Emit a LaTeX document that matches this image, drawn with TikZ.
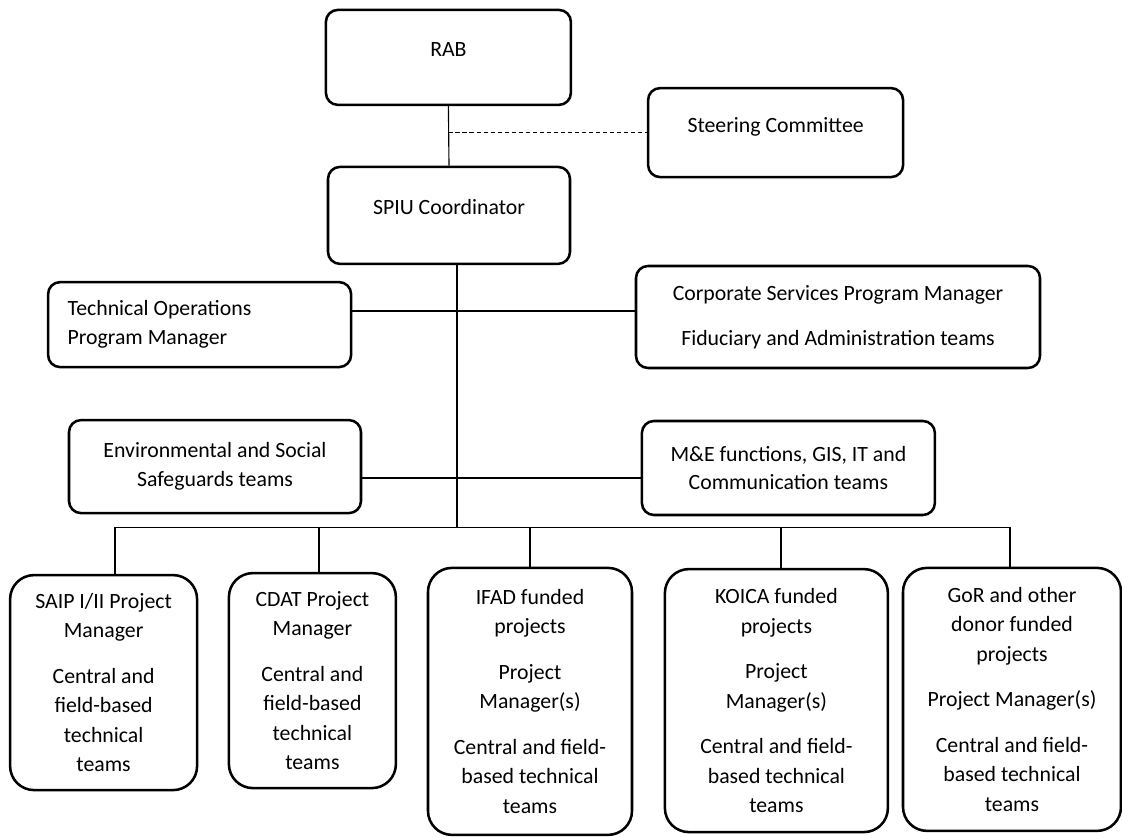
\documentclass[tikz,border=0pt]{standalone}
\usepackage{fontspec}
\setmainfont{Carlito}
\usetikzlibrary{positioning}

\begin{document}
\begin{tikzpicture}[unit/.style={draw,line width=1.8pt,rounded corners=0.3cm,align=center,inner sep=2pt,font=\fontsize{15.5}{20.4}\selectfont},
	proj/.style={unit,rounded corners=0.6cm,font=\fontsize{15.5}{21}\selectfont},
	link/.style={line width=0.8pt}]
		\useasboundingbox (0,0) rectangle (28.05,20.925);
		
		\node[unit,minimum width=6.125cm,minimum height=2.375cm,text depth=0.4cm] (rab) at (11.21,19.49) {RAB};
		\node[unit,minimum width=6.375cm,minimum height=2.225cm,text depth=0.4cm] (steer) at (19.39,17.61) {Steering Committee};
		\node[unit,minimum width=6.05cm,minimum height=2.425cm,text depth=0.4cm] (spiu) at (11.225,15.54) {SPIU Coordinator};
		
		\node[unit,minimum width=7.575cm,minimum height=2.125cm,align=flush left,text width=6.6cm] (techops) at (4.99,12.81) {Technical Operations\\Program Manager};
		\node[unit,minimum width=10.1cm,minimum height=2.55cm] (corp) at (20.95,13.0) {Corporate Services Program Manager\\[0.4cm]Fiduciary and Administration teams};
		
		\node[unit,minimum width=7.3cm,minimum height=2.325cm] (envsoc) at (5.375,9.26) {Environmental and Social\\Safeguards teams};
		\node[unit,minimum width=7.325cm,minimum height=2.35cm] (mande) at (19.71,9.225) {M\&E functions, GIS, IT and\\Communication teams};
		
		\node[proj,minimum width=4.675cm,minimum height=5.375cm] (saip) at (2.59,3.86) {SAIP I/II Project\\Manager\\[0.4cm]Central and\\field-based\\technical\\teams};
		\node[proj,minimum width=4.175cm,minimum height=5.375cm] (cdat) at (7.81,3.91) {CDAT Project\\Manager\\[0.4cm]Central and\\field-based\\technical\\teams};
		\node[proj,minimum width=5.1cm,minimum height=6.675cm] (ifad) at (13.25,3.39) {IFAD funded\\projects\\[0.4cm]Project\\Manager(s)\\[0.4cm]Central and field-\\based technical\\teams};
		\node[proj,minimum width=5.575cm,minimum height=6.575cm] (koica) at (19.41,3.41) {KOICA funded\\projects\\[0.4cm]Project\\Manager(s)\\[0.4cm]Central and field-\\based technical\\teams};
		\node[proj,minimum width=5.45cm,minimum height=6.575cm] (gor) at (25.3,3.44) {GoR and other\\donor funded\\projects\\[0.4cm]Project Manager(s)\\[0.4cm]Central and field-\\based technical\\teams};
		
		% top of the chart
		\draw[link] (rab.south) -- (spiu.north);
		\coordinate (sc) at (rab.south |- steer.west);
		\draw[link,dash pattern=on 3pt off 2pt] (sc) -- (steer.west);
		
		\coordinate (trunk) at ([xshift=0.2cm]spiu.south);
		\coordinate (busL) at (2.875,7.7375);
		\coordinate (busR) at (25.25,7.7375);
		\draw[link] (trunk) -- (trunk |- busL);
		
		\coordinate (opsline) at (0,13.15);
		\draw[link] (techops.east |- opsline) -- (corp.west |- opsline);
		\coordinate (sfgline) at (0,8.975);
		\draw[link] (envsoc.east |- sfgline) -- (mande.west |- sfgline);
		
		% bus to the projects
		\draw[link] (busL) -- (busR);
		\foreach \x/\n in {2.875/saip,7.975/cdat,13.25/ifad,19.525/koica,25.25/gor}
		\draw[link] (\x,7.7375) -- (\x,7.7375 |- \n.north);
		
	\end{tikzpicture}
\end{document}
